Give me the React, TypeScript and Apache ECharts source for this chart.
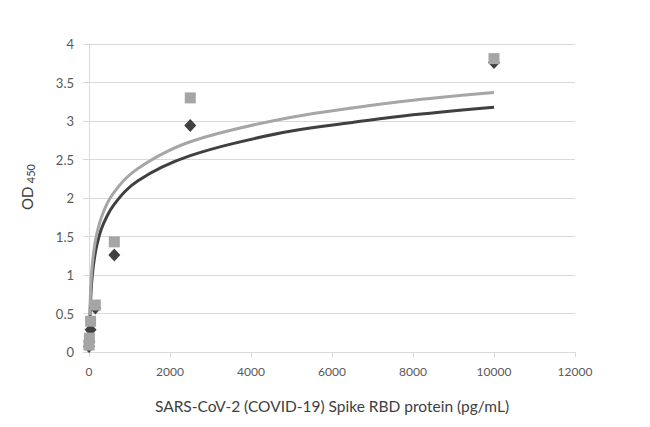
import React, { useEffect, useRef } from "react";
import * as echarts from "echarts";

// Standard concentrations (pg/mL)
const concentrations = [0, 9.77, 39.06, 156.25, 625, 2500, 10000];
// OD450 readings, dark diamond series
const odDark = [0.07, 0.14, 0.29, 0.57, 1.26, 2.94, 3.76];
// OD450 readings, gray square series
const odGray = [0.09, 0.18, 0.4, 0.61, 1.43, 3.3, 3.81];

// Trend curves
const trendX = [20, 30, 40, 60, 80, 110, 150, 200, 300, 450, 600, 900, 1200, 1800, 2500, 3500, 5000, 6500, 8000, 10000];
const trendDark = [0.36, 0.54, 0.67, 0.86, 0.99, 1.13, 1.27, 1.4, 1.59, 1.77, 1.9, 2.09, 2.22, 2.4, 2.55, 2.7, 2.87, 2.98, 3.08, 3.18];
const trendGray = [0.48, 0.67, 0.8, 0.99, 1.13, 1.27, 1.42, 1.55, 1.74, 1.93, 2.06, 2.25, 2.38, 2.57, 2.73, 2.88, 3.05, 3.17, 3.27, 3.37];

const xAxisTitle = "SARS-CoV-2 (COVID-19) Spike RBD protein (pg/mL)";

const DARK = "#404040";
const GRAY = "#a5a5a5";
const TICK_FONT = "Lato, 'Open Sans', sans-serif";
const TITLE_FONT = "Lato, 'Open Sans', sans-serif";

export default function App() {
  const ref = useRef<HTMLDivElement>(null);

  useEffect(() => {
    if (!ref.current) return;
    const chart = echarts.init(ref.current, undefined, { renderer: "svg" });
    const zip = (xs: number[], ys: number[]) => xs.map((x, i) => [x, ys[i]]);
    chart.setOption({
      animation: false,
      backgroundColor: "#ffffff",
      grid: { left: 89, right: 75, top: 44, bottom: 75, containLabel: false },
      xAxis: {
        type: "value",
        min: 0,
        max: 12000,
        interval: 2000,
        name: xAxisTitle,
        nameLocation: "middle",
        nameGap: 46,
        nameTextStyle: { fontFamily: TITLE_FONT, fontSize: 15.5, color: "#404040" },
        axisLine: { show: true, lineStyle: { color: "#d9d9d9", width: 1 } },
        axisTick: { show: true, length: 5, lineStyle: { color: "#d9d9d9" } },
        axisLabel: {
          margin: 13,
          fontFamily: TICK_FONT,
          fontSize: 12,
          color: "#595959",
          formatter: (v: number) => String(v),
        },
        splitLine: { show: false },
      },
      yAxis: {
        type: "value",
        min: 0,
        max: 4,
        interval: 0.5,
        name: "{a|OD} {b|450}",
        nameLocation: "middle",
        nameRotate: 90,
        nameGap: 52,
        nameTextStyle: {
          rich: {
            a: { fontFamily: TITLE_FONT, fontSize: 15, color: "#404040", lineHeight: 20, padding: [0, 0, 0, 22] },
            b: { fontFamily: TITLE_FONT, fontSize: 11, color: "#404040", lineHeight: 20, padding: [6, 0, 0, 0] },
          },
        },
        axisLine: { show: true, lineStyle: { color: "#d9d9d9", width: 1 } },
        axisTick: { show: true, length: 6, lineStyle: { color: "#d9d9d9" } },
        axisLabel: { margin: 15, fontFamily: TICK_FONT, fontSize: 13, color: "#595959" },
        splitLine: { show: true, lineStyle: { color: "#d9d9d9", width: 1 } },
      },
      series: [
        {
          type: "line",
          data: zip(trendX, trendDark),
          smooth: 0.4,
          showSymbol: false,
          symbol: "none",
          lineStyle: { color: DARK, width: 3 },
          z: 1,
        },
        {
          type: "line",
          data: zip(trendX, trendGray),
          smooth: 0.4,
          showSymbol: false,
          symbol: "none",
          lineStyle: { color: "#a6a6a6", width: 3 },
          z: 1,
        },
        {
          type: "scatter",
          data: zip(concentrations, odDark),
          symbol: "diamond",
          symbolSize: [12, 13],
          itemStyle: { color: DARK, opacity: 1 },
          z: 3,
        },
        {
          type: "scatter",
          data: zip(concentrations, odGray),
          symbol: "rect",
          symbolSize: 11,
          itemStyle: { color: GRAY, opacity: 1 },
          z: 4,
        },
      ],
    });
    return () => chart.dispose();
  }, []);

  return <div ref={ref} style={{ width: 650, height: 427, margin: -8 }} />;
}
